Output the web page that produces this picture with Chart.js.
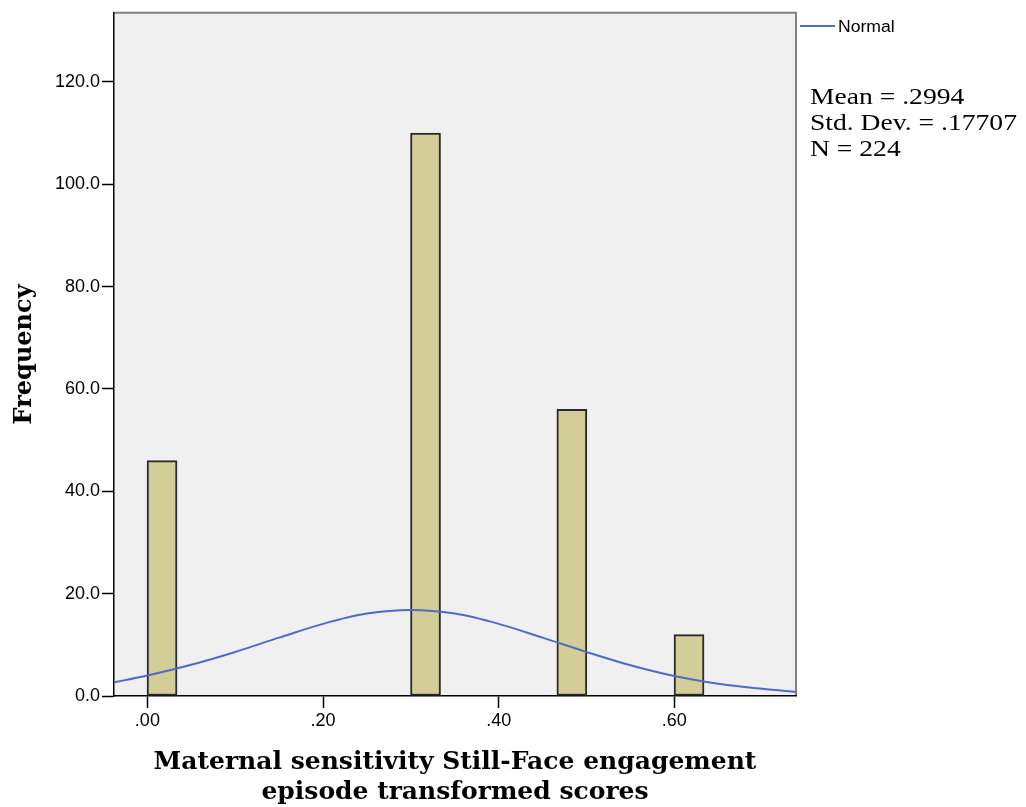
<!DOCTYPE html>
<html>
<head>
<meta charset="utf-8">
<script src="https://cdn.jsdelivr.net/npm/chart.js@4.4.1/dist/chart.umd.min.js"></script>
<style>
  body { margin: 0; background: #fff; }
  #wrap { width: 1026px; height: 807px; }
</style>
</head>
<body>
<div id="wrap"><canvas id="chart"></canvas></div>
<script>
// histograma: centros de los bins y frecuencias
const binCenters = [0.0167, 0.3167, 0.4833, 0.6167];
const frequencies = [46, 110, 56, 12];

// curva normal
const curveX = [-0.04, 0, 0.05, 0.1, 0.15, 0.2, 0.25, 0.3, 0.35, 0.4, 0.45, 0.5, 0.55, 0.6, 0.65, 0.7, 0.74];
const curveY = [2.6, 4.0, 6.1, 8.6, 11.4, 14.1, 16.1, 16.8, 16.1, 14.1, 11.4, 8.6, 6.0, 3.9, 2.4, 1.4, 0.75];

const xTicks = [0, 0.2, 0.4, 0.6];
const yTicks = [0, 20, 40, 60, 80, 100, 120];

const statsLines = ['Mean = .2994', 'Std. Dev. = .17707', 'N = 224'];
const legendLabel = 'Normal';

const lineColor = '#4f6bc4';
const titleFont = "'DejaVu Serif', 'Liberation Serif', serif";

const spssFrame = {
  id: 'spssFrame',
  beforeDraw(chart) {
    const { ctx, chartArea: a } = chart;
    ctx.save();
    ctx.fillStyle = '#f0f0f0';
    ctx.fillRect(a.left, a.top, a.right - a.left, a.bottom - a.top);
    ctx.strokeStyle = '#808080';
    ctx.lineWidth = 2;
    ctx.beginPath();
    ctx.moveTo(a.left, a.top);
    ctx.lineTo(a.right, a.top);
    ctx.lineTo(a.right, a.bottom);
    ctx.stroke();
    ctx.restore();
  },
  afterDraw(chart) {
    const { ctx, chartArea: a } = chart;
    ctx.save();
    // leyenda
    ctx.strokeStyle = lineColor;
    ctx.lineWidth = 2;
    ctx.beginPath();
    ctx.moveTo(a.right + 4, 26);
    ctx.lineTo(a.right + 39, 26);
    ctx.stroke();
    ctx.fillStyle = '#000';
    ctx.textBaseline = 'alphabetic';
    ctx.save();
    ctx.translate(a.right + 42, 32);
    ctx.scale(1.1, 1);
    ctx.font = "16px 'Liberation Sans', Arial, sans-serif";
    ctx.fillText(legendLabel, 0, 0);
    ctx.restore();
    // estadisticos (texto algo ensanchado como en SPSS)
    statsLines.forEach((s, i) => {
      ctx.save();
      ctx.translate(a.right + 14, 104 + i * 26);
      ctx.scale(1.2, 1);
      ctx.font = "23px 'Liberation Serif', 'Times New Roman', serif";
      ctx.fillText(s, 0, 0);
      ctx.restore();
    });
    ctx.restore();
  }
};

const ctx = document.getElementById('chart').getContext('2d');
new Chart(ctx, {
  data: {
    datasets: [
      {
        type: 'line',
        label: legendLabel,
        data: curveX.map((x, i) => ({ x, y: curveY[i] })),
        borderColor: lineColor,
        borderWidth: 2,
        pointRadius: 0,
        tension: 0.4,
        cubicInterpolationMode: 'monotone',
        order: 0
      },
      {
        type: 'bar',
        label: 'Frequency',
        data: binCenters.map((x, i) => ({ x, y: frequencies[i] })),
        backgroundColor: '#d3ce97',
        borderColor: '#2a2a2a',
        borderWidth: 2,
        borderSkipped: false,
        barThickness: 30,
        grouped: false,
        order: 1
      }
    ]
  },
  options: {
    responsive: true,
    maintainAspectRatio: false,
    animation: false,
    layout: { padding: { left: 0, top: 12, right: 230, bottom: 0 } },
    plugins: { legend: { display: false }, tooltip: { enabled: false } },
    scales: {
      x: {
        type: 'linear',
        min: -0.038,
        max: 0.7385,
        offset: false,
        afterFit: s => { s.height = 111; },
        afterBuildTicks: s => { s.ticks = xTicks.map(v => ({ value: v })); },
        grid: { drawOnChartArea: false, offset: false, tickLength: 12, color: '#000', tickWidth: 1.5 },
        border: { color: '#000', width: 1.5 },
        ticks: {
          padding: 2,
          color: '#000',
          font: { family: "'Liberation Sans', Arial, sans-serif", size: 18 },
          callback: v => v.toFixed(2).replace(/^0/, '')
        },
        title: {
          display: true,
          text: ['Maternal sensitivity Still-Face engagement', 'episode transformed scores'],
          color: '#000',
          padding: { top: 0, bottom: 0 },
          font: { family: titleFont, size: 25, weight: 'bold', lineHeight: 1.2 }
        }
      },
      y: {
        type: 'linear',
        min: 0,
        max: 133.5,
        afterFit: s => { s.width = 114; },
        afterBuildTicks: s => { s.ticks = yTicks.map(v => ({ value: v })); },
        grid: { drawOnChartArea: false, tickLength: 12, color: '#000', tickWidth: 1.5 },
        border: { color: '#000', width: 1.5 },
        ticks: {
          padding: 2,
          color: '#000',
          font: { family: "'Liberation Sans', Arial, sans-serif", size: 18 },
          callback: v => v.toFixed(1)
        },
        title: {
          display: true,
          text: 'Frequency',
          color: '#000',
          padding: { top: 10, bottom: 0 },
          font: { family: titleFont, size: 24, weight: 'bold', lineHeight: 1.2 }
        }
      }
    }
  },
  plugins: [spssFrame]
});
</script>
</body>
</html>
